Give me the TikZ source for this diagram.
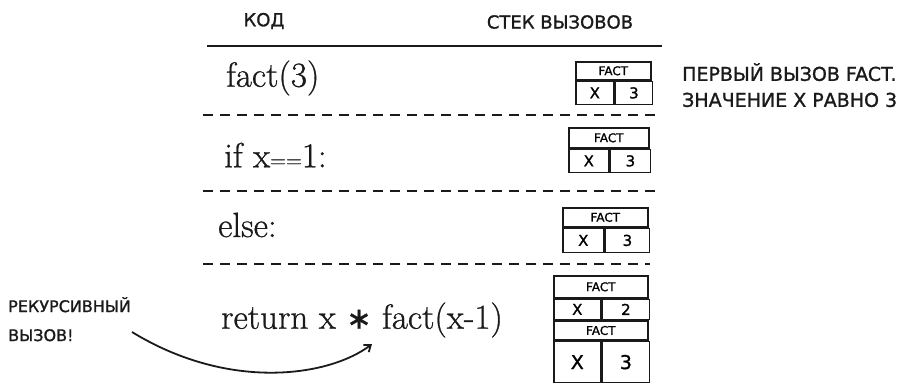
\documentclass[tikz,border=0pt]{standalone}
\usepackage{fontspec}
\usetikzlibrary{arrows.meta, positioning}
\newfontfamily\handfont[FakeBold=1.2]{DejaVu Sans}
\newfontfamily\codefont[FakeBold=0.8]{Latin Modern Roman}
\definecolor{inkblack}{HTML}{1A1A1A}
\tikzset{
  caps/.style={font=\handfont\fontsize{18}{22}\selectfont, text=inkblack, inner sep=0pt},
  note/.style={font=\handfont\fontsize{19}{26}\selectfont, text=inkblack, align=left, inner sep=0pt},
  code/.style={font=\codefont\fontsize{35}{38}\selectfont, text=inkblack, inner sep=0pt, anchor=west},
  fhead/.style={draw=inkblack, line width=1.6pt, font=\handfont\fontsize{12}{12}\selectfont,
                inner sep=0pt, anchor=north west},
  fcell/.style={draw=inkblack, line width=1.6pt, font=\handfont\fontsize{15}{15}\selectfont,
                inner sep=0pt, anchor=north west},
  rule/.style={draw=inkblack, line width=1.6pt},
  dashrule/.style={rule, dash pattern=on 10pt off 7pt},
  callarrow/.style={-{Straight Barb[length=6pt,width=9pt]}, draw=inkblack, line width=1.8pt},
}

\begin{document}
\begin{tikzpicture}[x=1pt, y=-1pt]
  \useasboundingbox (0,0) rectangle (904,388);
  % column titles
  \node (hcode) [caps] at (264,21) {КОД};
  \node (hstack) [caps] at (560,22) {СТЕК ВЫЗОВОВ};
  \draw[rule] (207,46) -- (662,46);
  \draw[dashrule] (203,115) -- (660,115);
  \draw[dashrule] (203,191) -- (657,191);
  \draw[dashrule] (203,264) -- (650,264);
  % code lines
  \node (cfact) [code] at (226,78) {fact(3)};
  \node (cif) [code] at (224,155) {if x{\fontsize{22}{22}\selectfont==}1:};
  \node (celse) [code] at (218,225) {else:};
  \node (cret) [code] at (221,320) {return x {\handfont\fontsize{30}{30}\selectfont ∗} fact(x-1)};
  % stack frames with one call
  \foreach \i/\x/\y/\w/\d/\a/\b in {1/575/61/75/38/18/23, 2/568/127/80/40/20/23, 3/562/207/85/41/19/24} {
    \node (fr\i h) [fhead, minimum width=\w pt, minimum height=\a pt] at (\x,\y) {FACT};
    \node (fr\i x) [fcell, minimum width=\d pt, minimum height=\b pt] at (fr\i h.south west) {X};
    \node (fr\i v) [fcell, minimum width=\w pt-\d pt, minimum height=\b pt] at (fr\i x.north east) {3};
  }
  % stack with two calls
  \node (fr4h) [fhead, minimum width=94pt, minimum height=22pt] at (553,275) {FACT};
  \node (fr4x) [fcell, minimum width=47pt, minimum height=20pt] at (fr4h.south west) {X};
  \node (fr4v) [fcell, minimum width=47pt, minimum height=20pt] at (fr4x.north east) {2};
  \node (fr5h) [fhead, minimum width=94pt, minimum height=19pt] at (fr4x.south west) {FACT};
  \node (fr5x) [fcell, minimum width=47pt, minimum height=41pt, font=\handfont\fontsize{19}{19}\selectfont] at (fr5h.south west) {X};
  \node (fr5v) [fcell, minimum width=47pt, minimum height=41pt, font=\handfont\fontsize{19}{19}\selectfont] at (fr5x.north east) {3};
  % side notes
  \node (nfirst) [note, anchor=north west] at (682,63) {ПЕРВЫЙ ВЫЗОВ FACT.\\ЗНАЧЕНИЕ X РАВНО 3};
  \node (nrec) [note, anchor=north west, font=\handfont\fontsize{16}{29}\selectfont] at (8,297) {РЕКУРСИВНЫЙ\\ВЫЗОВ!};
  \coordinate (cstart) at (132,332);
  \coordinate (ctip) at (372,344);
  \draw[callarrow] (cstart) .. controls (230,392) and (330,376) .. (ctip);
\end{tikzpicture}
\end{document}
